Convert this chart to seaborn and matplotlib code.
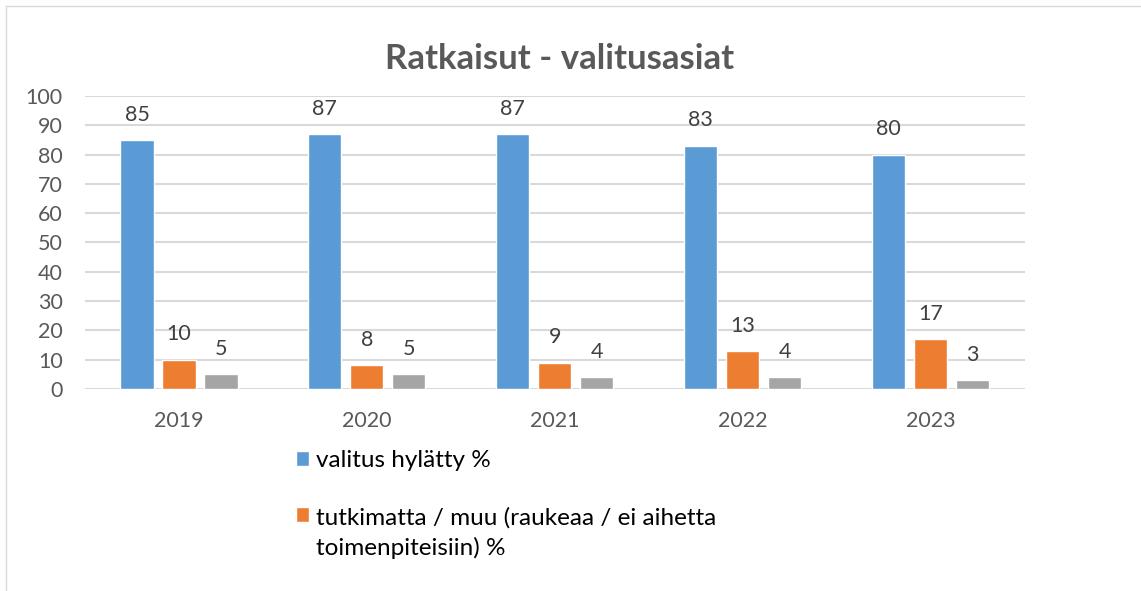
# Ratkaisut - valitusasiat, pylväskaavio

import pandas as pd
import seaborn as sns
import matplotlib.pyplot as plt
from matplotlib.lines import Line2D
from matplotlib.patches import Patch

vuodet = ["2019", "2020", "2021", "2022", "2023"]
sarjat = ["valitus hylätty %",
          "tutkimatta / muu (raukeaa / ei aihetta toimenpiteisiin) %",
          "valitus hyväksytty %"]
hylatty = [85, 87, 87, 83, 80]
tutkimatta = [10, 8, 9, 13, 17]
hyvaksytty = [5, 5, 4, 4, 3]
varit = ["#5B9BD5", "#ED7D31", "#A5A5A5"]

df = pd.DataFrame({
    "vuosi": vuodet * 3,
    "sarja": [sarjat[0]] * 5 + [sarjat[1]] * 5 + [sarjat[2]] * 5,
    "arvo": hylatty + tutkimatta + hyvaksytty,
})

sns.set_style("white")
plt.rcParams["font.family"] = ["Lato", "DejaVu Sans"]

fig = plt.figure(figsize=(11.41, 5.91), dpi=100)
ax = fig.add_axes([0.0745, 0.342, 0.8235, 0.4956])

sns.barplot(data=df, x="vuosi", y="arvo", hue="sarja", palette=varit,
            width=0.67, gap=0.21, saturation=1, legend=False, ax=ax)

for cont in ax.containers:
    ax.bar_label(cont, padding=11, fontsize=15.5, color="#404040")

ax.set_ylim(0, 100)
ax.set_yticks(range(0, 101, 10))
ax.grid(axis="y", color="#D9D9D9", linewidth=1.5)
ax.set_axisbelow(True)
for s in ax.spines.values():
    s.set_visible(False)
ax.tick_params(axis="both", length=0, labelsize=15.5, colors="#595959")
ax.tick_params(axis="x", pad=16)
ax.tick_params(axis="y", pad=16)
ax.set_xlabel("")
ax.set_ylabel("")

fig.text(0.49, 0.9, "Ratkaisut - valitusasiat", ha="center", va="center",
         fontsize=25, fontweight="bold", color="#595959")

kahvat = [Patch(facecolor=varit[0]), Patch(facecolor=varit[1])]
nimet = ["valitus hylätty %",
         "tutkimatta / muu (raukeaa / ei aihetta\ntoimenpiteisiin) %"]
leg = fig.legend(kahvat, nimet, loc="upper left", bbox_to_anchor=(0.24, 0.275),
                 frameon=False, fontsize=17.5, handlelength=0.55, handleheight=0.55,
                 handletextpad=0.3, labelspacing=1.45, labelcolor="#000000")
leg.get_texts()[1].set_linespacing(1.5)
# kahva ensimmäisen rivin kohdalle
h = leg.legend_handles[1]
h.set_y(h.get_y() + 17.5 * 1.5 / 2)

# kehys
fig.add_artist(Line2D([6 / 1141, 1], [1 - 6 / 591, 1 - 6 / 591],
                      color="#D9D9D9", linewidth=1))
fig.add_artist(Line2D([6 / 1141, 6 / 1141], [0, 1 - 6 / 591],
                      color="#D9D9D9", linewidth=1))

plt.savefig("out.png", dpi=100)
